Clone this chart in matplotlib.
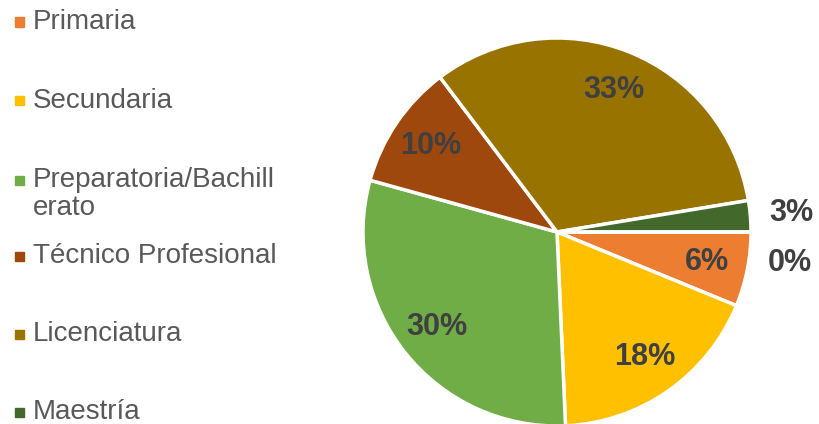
import numpy as np
import matplotlib.pyplot as plt
from matplotlib.patches import Rectangle

plt.rcParams['font.family'] = ['Liberation Sans', 'DejaVu Sans']

# Datos (porcentaje por nivel de estudios)
categories = ['Primaria', 'Secundaria', 'Preparatoria/Bachill\nerato',
              'Técnico Profesional', 'Licenciatura', 'Maestría', 'Doctorado']
values = [6.2, 18.1, 30.0, 10.4, 32.7, 2.6, 0.0]
colors = ['#ED7D31', '#FFC000', '#70AD47', '#9E480E', '#997300', '#43682B', '#255E91']

# legend rows actually shown in the original (first six)
n_legend = 6
legend_y = [22, 101, 180, 256, 334, 412]  # px from top

fig = plt.figure(figsize=(8.19, 4.24), dpi=100)
ax = fig.add_axes([363 / 819, (424 - 232 - 194) / 424, 388 / 819, 388 / 424])

wedges, _ = ax.pie(values, colors=colors, startangle=0, counterclock=False,
                   radius=1, wedgeprops=dict(edgecolor='white', linewidth=2.5))
ax.set_xlim(-1, 1)
ax.set_ylim(-1, 1)
ax.set_aspect('equal')
ax.axis('off')

# data labels
for w, v in zip(wedges, values):
    theta = (w.theta1 + w.theta2) / 2
    if v >= 5:
        r = 0.79
    else:
        r = 1.21
        if v < 0.5:
            theta = -7.5
    x = r * np.cos(np.radians(theta))
    y = r * np.sin(np.radians(theta))
    ax.text(x, y, f'{v:.0f}%', ha='center', va='center', fontsize=22,
            fontweight='bold', color='#404040', clip_on=False)

# legend drawn by hand
for i in range(n_legend):
    yc = 1 - legend_y[i] / 424
    fig.patches.append(Rectangle((15 / 819, yc - 4.5 / 424), 9 / 819, 9 / 424,
                                 transform=fig.transFigure, color=colors[i]))
    lines = categories[i].split('\n')
    for j, line in enumerate(lines):
        fig.text(33 / 819, yc - j * 28 / 424, line, ha='left', va='center',
                 fontsize=20, color='#595959')

fig.savefig('out.png', dpi=100)
